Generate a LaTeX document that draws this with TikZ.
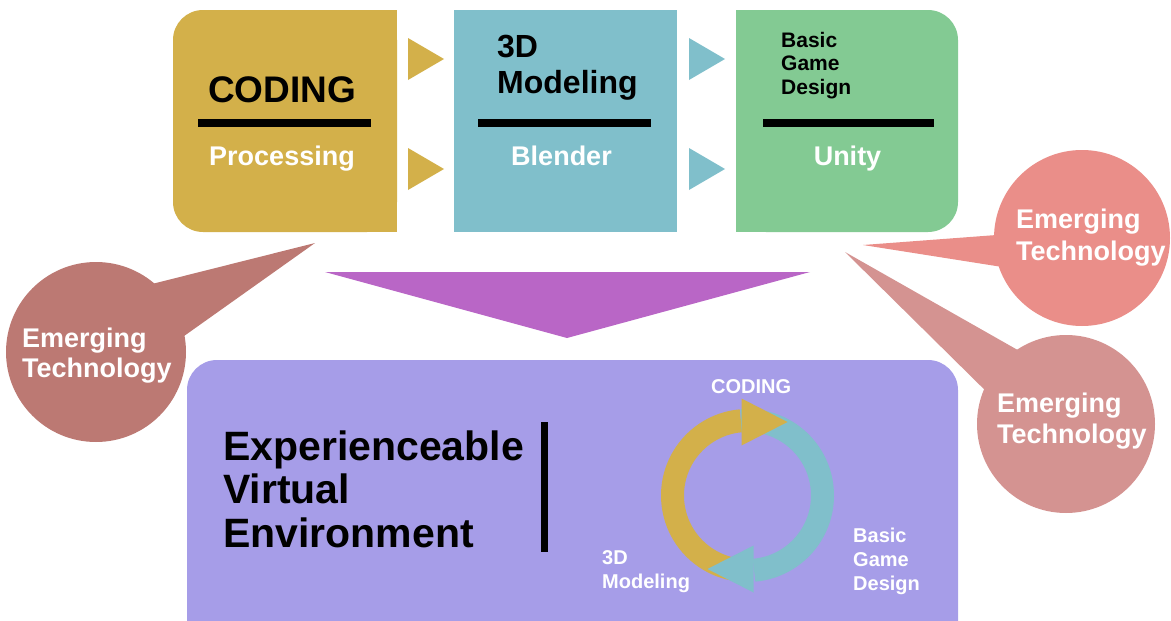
\documentclass[tikz,border=0pt]{standalone}
\usepackage{fontspec}
\setmainfont{Liberation Sans}
\definecolor{boxgold}{HTML}{D3B04A}
\definecolor{boxteal}{HTML}{80BFCB}
\definecolor{boxgreen}{HTML}{83CA93}
\definecolor{funnel}{HTML}{B966C6}
\definecolor{lavender}{HTML}{A69DE8}
\definecolor{bubbleA}{HTML}{BC7973}
\definecolor{bubbleB}{HTML}{EA8E89}
\definecolor{bubbleC}{HTML}{D49391}
\tikzset{
  txt/.style={inner sep=0pt, anchor=base west, align=left, font=\bfseries},
  ctxt/.style={inner sep=0pt, anchor=base, text=white, font=\bfseries\fontsize{27}{30}\selectfont},
  bar/.style={line width=8pt, black},
}

\begin{document}
\begin{tikzpicture}[x=1pt,y=-1pt]
\useasboundingbox (0,0) rectangle (1171,621);
\clip (0,0) rectangle (1171,621);
% three boxes on top
\fill[boxgold, rounded corners=30] (173,10) rectangle (397,232);
\fill[boxgold] (300,10) rectangle (397,232);
\fill[boxteal] (454,10) rectangle (677,232);
\fill[boxgreen, rounded corners=30] (736,10) rectangle (958,232);
\fill[boxgreen] (736,10) rectangle (850,232);
\foreach \y in {59,169} {
  \fill[boxgold] (408,\y-21) -- (444,\y) -- (408,\y+21) -- cycle;
  \fill[boxteal] (689,\y-21) -- (725,\y) -- (689,\y+21) -- cycle;
}
\foreach \xa/\xb in {198/371,478/651,763/934}
  \draw[bar] (\xa,123) -- (\xb,123);
% (base of a multi-line node = its last line)
\node[txt, font=\bfseries\fontsize{37}{40}\selectfont] (coding) at (208,102) {CODING};
\node[txt, font=\bfseries\fontsize{32}{36}\selectfont] (modeling) at (497,93) {3D\\Modeling};
\node[txt, font=\bfseries\fontsize{21}{23.5}\selectfont] (game) at (781,94) {Basic\\Game\\Design};
\node[ctxt] (processing) at (282,165) {Processing};
\node[ctxt] (blender) at (561.5,165) {Blender};
\node[ctxt] (unity) at (847.5,165) {Unity};
% funnel down to the environment
\fill[funnel] (325,272) -- (810,272) -- (567,338) -- cycle;
\fill[lavender, rounded corners=30] (187,360) rectangle (958,680);
\node[txt, font=\bfseries\fontsize{41}{43.5}\selectfont] (eve) at (223,547) {Experienceable\\Virtual\\Environment};
\draw[line width=7pt] (544,422) -- (544,552);
% cycle of the three steps
\begin{scope}[shift={(747.5,495.5)}, y=1pt]
  \draw[boxgold, line width=23pt] (95:75) arc[start angle=95, end angle=265, radius=75];
  \draw[boxteal, line width=23pt] (95:75) arc[start angle=95, end angle=-85, radius=75];
  \fill[boxteal] (6,-50) -- (-40,-73.5) -- (6,-97) -- cycle;
  \fill[boxgold] (-6,50) -- (40,73.5) -- (-6,97) -- cycle;
\end{scope}
\node[txt, text=white, font=\bfseries\fontsize{20}{24}\selectfont] (cyc-coding) at (711,393) {CODING};
\node[txt, text=white, font=\bfseries\fontsize{20}{24}\selectfont] (cyc-modeling) at (602,588) {3D\\Modeling};
\node[txt, text=white, font=\bfseries\fontsize{20}{24}\selectfont] (cyc-game) at (853,590) {Basic\\Game\\Design};
% speech bubbles
\fill[bubbleA] (96,352) circle (90);
\fill[bubbleA] (140,287) -- (315,243) -- (170,346) -- cycle;
\fill[bubbleB] (1082,238) circle (88);
\fill[bubbleB] (1010,234) -- (863,245) -- (1015,269) -- cycle;
\fill[bubbleC] (1066,424) circle (89);
\fill[bubbleC] (1030,357) -- (845,252) -- (1000,405) -- cycle;
\node[txt, text=white, font=\bfseries\fontsize{27}{30}\selectfont] (emerge-a) at (22,377) {Emerging\\Technology};
\node[txt, text=white, font=\bfseries\fontsize{27}{32}\selectfont] (emerge-b) at (1016,260) {Emerging\\Technology};
\node[txt, text=white, font=\bfseries\fontsize{27}{31}\selectfont] (emerge-c) at (997,443) {Emerging\\Technology};
\end{tikzpicture}
\end{document}
